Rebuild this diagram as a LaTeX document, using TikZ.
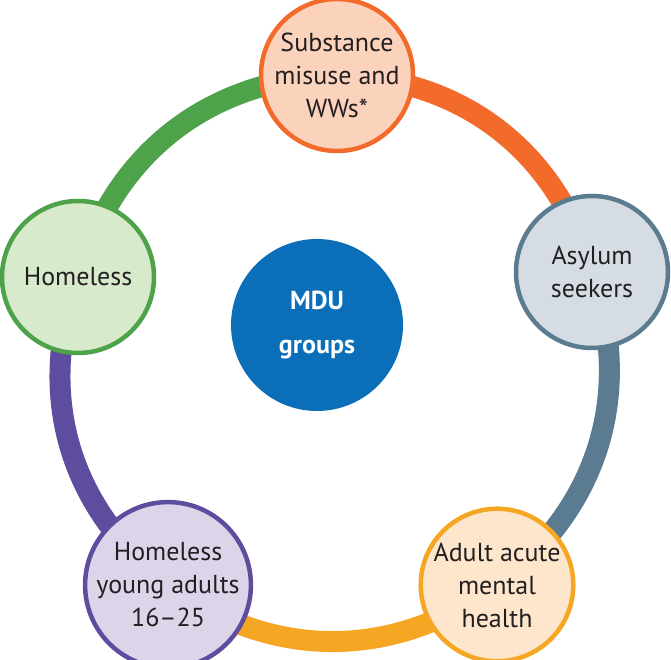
\documentclass[tikz,border=0pt]{standalone}
\usepackage{fontspec}
\setmainfont{PT Sans}
\definecolor{orangeR}{HTML}{F26B2A}
\definecolor{orangeF}{HTML}{FBD2BC}
\definecolor{slateR}{HTML}{5B7B91}
\definecolor{slateF}{HTML}{D5DCE3}
\definecolor{yellowR}{HTML}{F5A623}
\definecolor{yellowF}{HTML}{FDE6CC}
\definecolor{purpleR}{HTML}{5E4C9E}
\definecolor{purpleF}{HTML}{DDD4EA}
\definecolor{greenR}{HTML}{4EA24A}
\definecolor{greenF}{HTML}{D7EACC}
\definecolor{mdublue}{HTML}{0A6EB8}
\definecolor{txt}{HTML}{231F20}
\tikzset{
  group/.style={circle, minimum size=152pt, inner sep=0pt, line width=4.5pt, align=center,
    text=txt, font=\fontsize{26}{33}\selectfont},
  ring/.style={line width=21pt},
}
\begin{document}
\begin{tikzpicture}[x=1pt,y=1pt]
\useasboundingbox (0,0) rectangle (671,660);
\coordinate (ctop) at (337,585);
\coordinate (cright) at (592,388);
\coordinate (cbr) at (497,75);
\coordinate (cbl) at (168,75);
\coordinate (cleft) at (78,383);
\draw[ring, orangeR] (ctop) to[bend left=36] (cright);
\draw[ring, slateR] (cright) to[bend left=36] (cbr);
\draw[ring, yellowR] (cbr) to[bend left=36] (cbl);
\draw[ring, purpleR] (cbl) to[bend left=36] (cleft);
\draw[ring, greenR] (cleft) to[bend left=36] (ctop);
\node[group, draw=orangeR, fill=orangeF] (top) at (ctop) {Substance\\misuse and\\WWs*};
\node[group, draw=slateR, fill=slateF] (right) at (cright) {Asylum\\seekers};
\node[group, draw=yellowR, fill=yellowF] (br) at (cbr) {Adult acute\\mental\\health};
\node[group, draw=purpleR, fill=purpleF] (bl) at (cbl) {Homeless\\young adults\\16--25};
\node[group, draw=greenR, fill=greenF] (left) at (cleft) {Homeless};
\node[circle, fill=mdublue, minimum size=172pt, inner sep=0pt, align=center, text=white,
  font=\bfseries\fontsize{26}{44}\selectfont] (mdu) at (317,335) {MDU\\groups};
\end{tikzpicture}
\end{document}
